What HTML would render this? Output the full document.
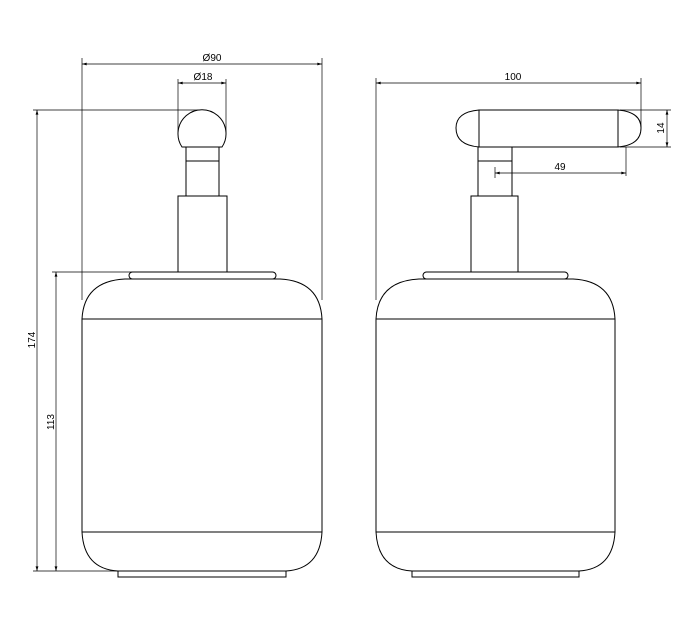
<!DOCTYPE html>
<html><head><meta charset="utf-8"><style>html,body{margin:0;padding:0;background:#fff}svg{display:block}</style></head><body>
<svg width="699" height="629" viewBox="0 0 699 629" xmlns="http://www.w3.org/2000/svg" font-family="Liberation Sans, sans-serif" font-size="10" fill="none" stroke="#000" stroke-width="1">
<defs><marker id="a" viewBox="0 0 10 6" refX="10" refY="3" markerWidth="10" markerHeight="4" orient="auto-start-reverse"><path d="M0,0 L10,3 L0,6z" fill="#000" stroke="none"/></marker></defs>
<!-- LEFT VIEW -->
<path d="M82,319 Q84,281 125,279 L280,279 Q320,281 322,319 L322,532 Q320,569 286,571 L118,571 Q84,569 82,532 Z"/>
<line x1="82" y1="319" x2="322" y2="319"/><line x1="82" y1="532" x2="322" y2="532"/>
<rect x="118" y="571" width="168" height="6"/>
<rect x="129" y="272" width="147" height="7" rx="3.5"/>
<rect x="178" y="196" width="49" height="76"/>
<rect x="186" y="147" width="33" height="49"/><line x1="186" y1="161" x2="219" y2="161"/>
<path d="M182,147 A24,24 0 1 1 222,147 Z"/>
<!-- left dims -->
<line x1="82" y1="58" x2="82" y2="300" stroke-width="0.7"/><line x1="322" y1="58" x2="322" y2="300" stroke-width="0.7"/>
<line x1="82" y1="64" x2="322" y2="64" stroke-width="0.7" marker-start="url(#a)" marker-end="url(#a)"/>
<text x="212" y="61" text-anchor="middle" fill="#000" stroke="none">Ø90</text>
<line x1="178" y1="79" x2="178" y2="133" stroke-width="0.7"/><line x1="226" y1="79" x2="226" y2="133" stroke-width="0.7"/>
<line x1="178" y1="83" x2="226" y2="83" stroke-width="0.7" marker-start="url(#a)" marker-end="url(#a)"/>
<text x="203" y="80" text-anchor="middle" fill="#000" stroke="none">Ø18</text>
<line x1="33" y1="110" x2="200" y2="110" stroke-width="0.7"/>
<line x1="33" y1="571" x2="118" y2="571" stroke-width="0.7"/>
<line x1="37" y1="110" x2="37" y2="571" stroke-width="0.7" marker-start="url(#a)" marker-end="url(#a)"/>
<text transform="translate(35,340) rotate(-90)" text-anchor="middle" fill="#000" stroke="none">174</text>
<line x1="52" y1="272" x2="178" y2="272" stroke-width="0.7"/>
<line x1="56" y1="272" x2="56" y2="571" stroke-width="0.7" marker-start="url(#a)" marker-end="url(#a)"/>
<text transform="translate(54,422) rotate(-90)" text-anchor="middle" fill="#000" stroke="none">113</text>
<!-- RIGHT VIEW -->
<path d="M376,319 Q378,281 419,279 L573,279 Q613,281 615,319 L615,532 Q613,569 579,571 L412,571 Q378,569 376,532 Z"/>
<line x1="376" y1="319" x2="615" y2="319"/><line x1="376" y1="532" x2="615" y2="532"/>
<rect x="412" y="571" width="167" height="6"/>
<rect x="423" y="272" width="145" height="7" rx="3.5"/>
<rect x="471" y="196" width="47" height="76"/>
<rect x="478" y="147" width="34" height="49"/><line x1="478" y1="161" x2="512" y2="161"/>
<path d="M479,110 L618,110 Q641,112 641,128 Q641,145 618,147 L479,147 Q456,145 456,128 Q456,112 479,110 Z"/>
<line x1="479" y1="110" x2="479" y2="147"/><line x1="618" y1="110" x2="618" y2="147"/>
<!-- right dims -->
<line x1="376" y1="78" x2="376" y2="300" stroke-width="0.7"/><line x1="641" y1="78" x2="641" y2="128" stroke-width="0.7"/>
<line x1="376" y1="83" x2="641" y2="83" stroke-width="0.7" marker-start="url(#a)" marker-end="url(#a)"/>
<text x="513" y="80" text-anchor="middle" fill="#000" stroke="none">100</text>
<line x1="620" y1="110" x2="671" y2="110" stroke-width="0.7"/><line x1="620" y1="147" x2="671" y2="147" stroke-width="0.7"/>
<line x1="667" y1="110" x2="667" y2="147" stroke-width="0.7" marker-start="url(#a)" marker-end="url(#a)"/>
<text transform="translate(664,128) rotate(-90)" text-anchor="middle" fill="#000" stroke="none">14</text>
<line x1="626" y1="147" x2="626" y2="176" stroke-width="0.7"/>
<line x1="495" y1="167" x2="495" y2="178" stroke-width="0.7"/>
<line x1="495" y1="173" x2="626" y2="173" stroke-width="0.7" marker-start="url(#a)" marker-end="url(#a)"/>
<text x="560" y="170" text-anchor="middle" fill="#000" stroke="none">49</text>
</svg>
</body></html>
